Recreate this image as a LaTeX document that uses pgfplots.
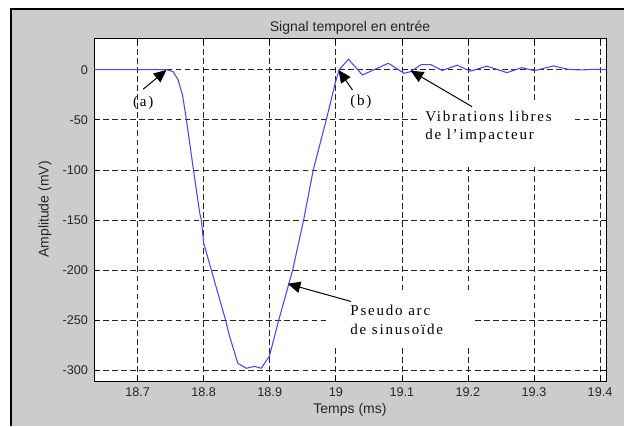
\documentclass[border=0pt]{standalone}
\usepackage{pgfplots}
\pgfplotsset{compat=1.18}
\usetikzlibrary{arrows.meta}
\usepackage{fontspec}
\setmainfont{Liberation Sans}
\newfontfamily\annfont[LetterSpace=12]{Liberation Serif}
\definecolor{figgray}{RGB}{204,204,204}
\definecolor{curveblue}{RGB}{70,70,255}
\begin{document}
\begin{tikzpicture}[x=1pt,y=1pt]
\useasboundingbox (0,0) rectangle (468,319.5);
\fill[white] (0,0) rectangle (468,319.5);
\fill[figgray] (8.25,0) rectangle (468,312.75);
\draw[black,line width=1.5pt] (8.25,0) -- (8.25,312.75) -- (468,312.75);
\begin{axis}[
  at={(70.5pt,33.75pt)}, anchor=south west,
  scale only axis, width=384pt, height=257.25pt,
  xmin=18.634, xmax=19.409, ymin=-310.7, ymax=31.6,
  xtick={18.7,18.8,18.9,19,19.1,19.2,19.3,19.4},
  xticklabels={18.7,18.8,18.9,19,19.1,19.2,19.3,19.4},
  ytick={-300,-250,-200,-150,-100,-50,0},
  yticklabels={-300,-250,-200,-150,-100,-50,0},
  tick align=inside, major tick length=3.75pt,
  tick style={black, line width=0.5pt},
  grid=major,
  major grid style={black!85, line width=0.5pt, dash pattern=on 4.3pt off 2.5pt},
  axis line style={black, line width=0.6pt},
  axis background/.style={fill=white},
  ticklabel style={font=\fontsize{9.5}{11}\selectfont, text=black!85},
  yticklabel style={xshift=-1pt},
  xticklabel style={yshift=-1.5pt},
  title={Signal temporel en entrée},
  title style={at={(axis description cs:0.5,1.0058)}, anchor=center, font=\fontsize{10.5}{12}\selectfont, text=black!85},
  xlabel={Temps (ms)},
  xlabel style={at={(axis description cs:0.5,-0.0845)}, anchor=center, font=\fontsize{10.5}{12}\selectfont, text=black!85},
  ylabel={Amplitude (mV)},
  ylabel style={at={(axis description cs:-0.0957,0.5)}, anchor=center, font=\fontsize{10.5}{12}\selectfont, text=black!85},
]
\addplot[curveblue, line width=0.8pt] coordinates {
(18.634,0) (18.700,0) (18.744,0) (18.7537,-2) (18.7612,-10) (18.7679,-25)
(18.7739,-50) (18.7839,-97) (18.794,-143) (18.7965,-150) (18.800,-173)
(18.8116,-200) (18.8332,-250) (18.8392,-266) (18.8517,-293) (18.8644,-298)
(18.8769,-296) (18.8870,-298) (18.8995,-286) (18.9136,-250) (18.9347,-200)
(18.9513,-150) (18.9659,-100) (18.9856,-50) (18.9991,-13.6) (19.0051,0)
(19.0192,10.4) (19.0403,-5.3) (19.0795,6.4) (19.1032,-3.6) (19.1133,-2)
(19.1290,5) (19.1440,5) (19.1610,-0.8) (19.1836,4.4) (19.2037,-1.5)
(19.2288,3.5) (19.2590,-3) (19.2816,2) (19.2943,0) (19.3008,-1)
(19.3294,3.7) (19.3522,0.3) (19.3700,-0.3) (19.3900,0.3) (19.409,0)
};
\fill[white] (axis cs:18.99,-222) rectangle (axis cs:19.2088,-275.8);
\fill[white] (axis cs:19.1228,-30.2) rectangle (axis cs:19.3627,-93);
\node[anchor=base, font=\annfont\fontsize{11.25}{13.5}\selectfont, inner sep=0pt] at (axis cs:18.7084,-36.3) {(a)};
\node[anchor=base, font=\annfont\fontsize{11.25}{13.5}\selectfont, inner sep=0pt] at (axis cs:19.0379,-35.5) {(b)};
\node[anchor=base west, font=\annfont\fontsize{11.25}{13.5}\selectfont, inner sep=0pt] at (axis cs:19.135,-51.8) {Vibrations libres};
\node[anchor=base west, font=\annfont\fontsize{11.25}{13.5}\selectfont, inner sep=0pt] at (axis cs:19.135,-70.1) {de l’impacteur};
\node[anchor=base west, font=\annfont\fontsize{11.25}{13.5}\selectfont, inner sep=0pt] at (axis cs:19.0217,-245.6) {Pseudo arc};
\node[anchor=base west, font=\annfont\fontsize{11.25}{13.5}\selectfont, inner sep=0pt] at (axis cs:19.0217,-264.5) {de sinusoïde};
\draw[black, line width=0.75pt, -{Triangle[length=9.5pt,width=8.5pt]}] (axis cs:18.7084,-19.5) -- (axis cs:18.7437,-0.3);
\draw[black, line width=0.75pt, -{Triangle[length=9.5pt,width=8.5pt]}] (axis cs:19.0252,-20.2) -- (axis cs:19.0041,-0.3);
\draw[black, line width=0.75pt, -{Triangle[length=9.5pt,width=8.5pt]}] (axis cs:19.2062,-36.9) -- (axis cs:19.1133,-1.0);
\draw[black, line width=0.75pt, -{Triangle[length=9.5pt,width=8.5pt]}] (axis cs:19.0228,-231.3) -- (axis cs:18.9272,-213.7);
\end{axis}
\end{tikzpicture}
\end{document}
